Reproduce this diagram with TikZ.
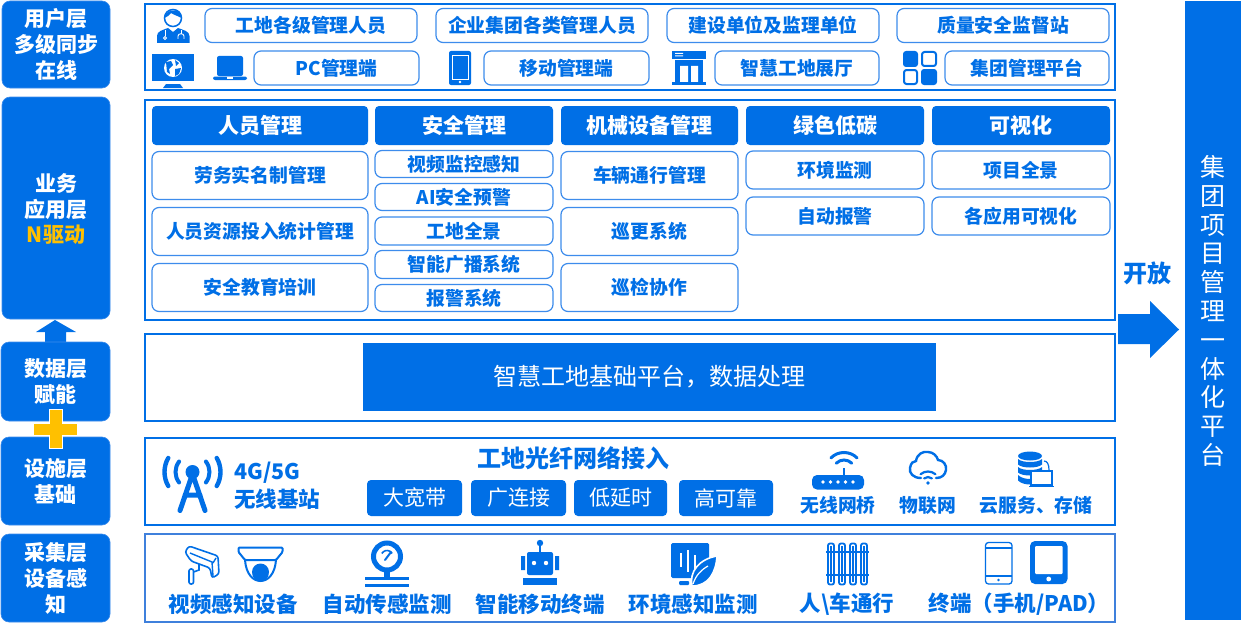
\documentclass[tikz,border=0pt]{standalone}
\usepackage{fontspec}
\setmainfont{Noto Sans CJK SC}
\definecolor{mb}{HTML}{006FE6}
\definecolor{pb}{HTML}{3D8CEC}
\definecolor{low}{HTML}{3F80DC}
\definecolor{ye}{HTML}{FFC000}
\newcommand{\fsz}[2]{\fontsize{#1pt}{#2pt}\selectfont}
% box: style, name, x1,y1,x2,y2, text
\newcommand{\bx}[7]{\node[#1,minimum width={(#5-#3)*1pt},minimum height={(#6-#4)*1pt}] (#2) at ({(#3+#5)/2},{(#4+#6)/2}) {#7};}
\tikzset{x=1pt,y=-1pt,
 layerbox/.style={fill=mb,draw=pb,line width=.6pt,rounded corners=8pt,inner sep=0pt,text=white,font=\bfseries\fsz{21}{26},align=center},
 panelbox/.style={draw=mb,line width=2pt,fill=white,inner sep=0pt},
 lowpanel/.style={draw=low,line width=2pt,fill=white,inner sep=0pt},
 pillbox/.style={draw=pb,line width=1.2pt,fill=white,rounded corners=7pt,inner sep=0pt,text=mb,font=\bfseries\fsz{18.8}{22}},
 headbox/.style={fill=mb,rounded corners=4pt,inner sep=0pt,text=white,font=\bfseries\fsz{21}{24}},
 chipbox/.style={fill=mb,rounded corners=4pt,inner sep=0pt,text=white,font=\fsz{21}{24}},
 bluelabel/.style={inner sep=0pt,text=mb,font=\bfseries\fsz{21.5}{26}},
 iconfill/.style={fill=mb,draw=none},
 iconline/.style={draw=mb,line width=1.4pt},
}
\begin{document}
\begin{tikzpicture}
\useasboundingbox (0,0) rectangle (1244,634);
% ---- layer boxes
\bx{layerbox}{userlayer}{2}{1}{110}{88}{用户层\\多级同步\\在线}
\node[layerbox,minimum width=108pt,minimum height=222pt] (applayer) at (56,208) {};
\node[inner sep=0pt,text=white,align=center,font=\bfseries\fsz{21}{25.5}] (applabel) at (56,209) {业务\\应用层\\\textcolor{ye}{N驱动}};
\fill[mb] (55,320)--(76,332)--(66,332)--(66,344)--(45,344)--(45,332)--(36,332)--cycle;
\bx{layerbox}{datalayer}{1}{342}{110}{421}{数据层\\赋能}
\bx{layerbox}{facilitylayer}{1}{437}{110}{525}{设施层\\基础}
\bx{layerbox}{collectlayer}{1}{534}{110}{622}{采集层\\设备感\\知}
\fill[white] (48.5,408.5) rectangle (62.5,448.5);
\fill[ye] (49.5,409.5) rectangle (61.5,447.5);
\fill[ye] (34,424) rectangle (77,435);
% ---- panels
\bx{panelbox}{panelA}{145}{4}{1115}{90}{}
\bx{panelbox}{panelB}{145}{100}{1115}{320}{}
\bx{panelbox}{panelC}{145}{334}{1115}{421}{}
\bx{panelbox}{panelD}{145}{438}{1115}{525}{}
\bx{lowpanel}{panelE}{145}{534}{1115}{622}{}
% ---- user row
\bx{pillbox}{ua}{205}{8.5}{417}{42.5}{工地各级管理人员}
\bx{pillbox}{ub}{436}{8.5}{648}{42.5}{企业集团各类管理人员}
\bx{pillbox}{uc}{667}{8.5}{879}{42.5}{建设单位及监理单位}
\bx{pillbox}{ud}{897}{8.5}{1109}{42.5}{质量安全监督站}
\bx{pillbox}{ue}{254}{51}{419}{85}{PC管理端}
\bx{pillbox}{uf}{484}{51}{649}{85}{移动管理端}
\bx{pillbox}{ug}{715}{51}{879}{85}{智慧工地展厅}
\bx{pillbox}{uh}{945}{51}{1109}{85}{集团管理平台}
% ---- application headers
\bx{headbox}{ha}{152}{106}{368}{145}{人员管理}
\bx{headbox}{hb}{375}{106}{553}{145}{安全管理}
\bx{headbox}{hc}{561}{106}{738}{145}{机械设备管理}
\bx{headbox}{hd}{746}{106}{924}{145}{绿色低碳}
\bx{headbox}{he}{932}{106}{1110}{145}{可视化}
\bx{pillbox}{a1}{152}{151.5}{368}{199.5}{劳务实名制管理}
\bx{pillbox}{a2}{152}{207.5}{368}{255.5}{人员资源投入统计管理}
\bx{pillbox}{a3}{152}{263.5}{368}{311.5}{安全教育培训}
\bx{pillbox}{b1}{375}{150.5}{553}{177.5}{视频监控感知}
\bx{pillbox}{b2}{375}{183.5}{553}{210.5}{AI安全预警}
\bx{pillbox}{b3}{375}{217}{553}{245}{工地全景}
\bx{pillbox}{b4}{375}{250.5}{553}{278.5}{智能广播系统}
\bx{pillbox}{b5}{375}{284.5}{553}{311.5}{报警系统}
\bx{pillbox}{c1}{561}{151.5}{738}{199.5}{车辆通行管理}
\bx{pillbox}{c2}{561}{207.5}{738}{255.5}{巡更系统}
\bx{pillbox}{c3}{561}{263.5}{738}{311.5}{巡检协作}
\bx{pillbox}{d1}{746}{151}{924}{189}{环境监测}
\bx{pillbox}{d2}{746}{197}{924}{235}{自动报警}
\bx{pillbox}{e1}{932}{151}{1110}{189}{项目全景}
\bx{pillbox}{e2}{932}{197}{1110}{235}{各应用可视化}
% ---- data platform
\node[fill=mb,inner sep=0pt,text=white,font=\fsz{24}{28},minimum width=573pt,minimum height=68pt] (platform) at (649.5,377) {智慧工地基础平台，数据处理};
% ---- network
\node[bluelabel,font=\bfseries\fsz{24}{28}] (nettitle) at (573,458) {工地光纤网络接入};
\bx{chipbox}{n1}{367}{480}{462}{516}{大宽带}
\bx{chipbox}{n2}{471}{480}{566}{516}{广连接}
\bx{chipbox}{n3}{574}{480}{667}{516}{低延时}
\bx{chipbox}{n4}{679}{480}{773}{516}{高可靠}
\node[bluelabel,anchor=west] (g4) at (234,473) {4G/5G};
\node[bluelabel,anchor=west] (wl) at (234,499) {无线基站};
\node[bluelabel,font=\bfseries\fsz{18.8}{22}] (lb1) at (838,505) {无线网桥};
\node[bluelabel,font=\bfseries\fsz{18.8}{22}] (lb2) at (928,505) {物联网};
\node[bluelabel,font=\bfseries\fsz{18.8}{22}] (lb3) at (1036,505) {云服务、存储};
% ---- collection labels
\node[bluelabel] (c01) at (233,604) {视频感知设备};
\node[bluelabel] (c02) at (387,604) {自动传感监测};
\node[bluelabel] (c03) at (540,604) {智能移动终端};
\node[bluelabel] (c04) at (693,604) {环境感知监测};
\node[bluelabel] (c05) at (847,604) {人\textbackslash 车通行};
\node[bluelabel] (c06) at (1019,604) {终端（手机/PAD）};
% ---- right bar
\node[fill=mb,inner sep=0pt,minimum width=56pt,minimum height=619pt] (rightbar) at (1213,310.5) {};
\node[inner sep=0pt,text=white,align=center,font=\fsz{25}{28.8}] (righttext) at (1213,311) {集\\团\\项\\目\\管\\理\\一\\体\\化\\平\\台};
\node[bluelabel,font=\bfseries\fsz{24}{28}] (open) at (1147,273) {开放};
\fill[mb] (1118,314)--(1150,314)--(1150,301)--(1179,329.5)--(1150,358)--(1150,344)--(1118,344)--cycle;
% ---- ICONS
% person
\draw[mb,line width=1.5pt,fill=white] (173,18) circle (8.5pt);
\fill[mb] (164.5,18) .. controls (164,9) and (182,7) .. (181.5,18) .. controls (178,16) and (174,15) .. (171,13) .. controls (170,15) and (167,17) .. (164.5,18) -- cycle;
\fill[mb] (157,43)--(157,36) .. controls (157,31) and (163,30) .. (168,28)--(173,32)--(178,28) .. controls (183,30) and (189.5,31) .. (189.5,36)--(189.5,43)--cycle;
\draw[white,line width=.9pt] (165,30)--(165,36) (181,30)--(181,34);
\draw[white,line width=.9pt] (165,38) circle (1.6pt) (178,39)--(178,36) .. controls (178,33) and (184,33) .. (184,36)--(184,39);
% monitor
\fill[mb] (152,54) rectangle (194,81);
\fill[mb] (163,88)--(166,84)--(180,84)--(183,88)--cycle;
\fill[white] (173,68) circle (9pt);
\fill[mb] (166,62)--(171,61)--(173,65)--(169,69)--(170,74)--(167,72)--cycle (175,60)--(179,63)--(176,66)--cycle (175,69)--(181,68)--(179,74)--(175,76)--cycle;
% laptop
\fill[mb,rounded corners=2pt] (217,56) rectangle (243,76);
\fill[mb,rounded corners=2pt] (213,76.5) rectangle (247,80);
\fill[white] (227,77) rectangle (233,78.5);
% phone
\fill[mb,rounded corners=2pt] (449,51) rectangle (471,85);
\draw[white,line width=.7pt] (452,55.5) rectangle (468,79);
\fill[white] (460,82) circle (1.3pt);
% shop
\fill[mb] (672,51) rectangle (706,59);
\fill[white] (675,53) rectangle (683,54) (675,55.5) rectangle (683,56.5);
\fill[mb] (675,60) rectangle (703,83);
\fill[white] (680,66) rectangle (688,82) (691,66) rectangle (698,82);
\fill[mb] (672,81.5) rectangle (706,85);
% grid
\fill[mb,rounded corners=3pt] (903,51) rectangle (918,67);
\fill[mb,rounded corners=3pt] (921,69) rectangle (937,85);
\draw[mb,line width=2pt,rounded corners=2.5pt] (922,52) rectangle (936,66) (904,70) rectangle (917,84);
% tower
\fill[mb] (192.5,472) circle (7pt);
\draw[mb,line width=5pt,line cap=round] (192.5,474)--(180,510.5) (192.5,474)--(205,510.5) (185,495)--(200,495);
\draw[mb,line width=4.4pt,line cap=round] (192.5,472) ++(150:28pt) arc (150:210:28pt);
\draw[mb,line width=4.4pt,line cap=round] (192.5,472) ++(-30:28pt) arc (-30:30:28pt);
\draw[mb,line width=4pt,line cap=round] (192.5,472) ++(142:17pt) arc (142:218:17pt);
\draw[mb,line width=4pt,line cap=round] (192.5,472) ++(-38:17pt) arc (-38:38:17pt);
% wifi bridge
\fill[mb,rounded corners=5pt] (812,475) rectangle (864,489.5);
\foreach \dx in {823,830.5,838,845.5,853} {\fill[white] (\dx,482) circle (1.8pt);}
\draw[mb,line width=2.4pt] (844,468)--(844,476);
\draw[mb,line width=3pt,line cap=round] (844,471) ++(45:18.5pt) arc (45:135:18.5pt);
\draw[mb,line width=3pt,line cap=round] (844,471) ++(45:11pt) arc (45:135:11pt);
% cloud
\draw[mb,line width=2.4pt,line cap=round] (921,478) .. controls (913,478) and (909,473) .. (910,468) .. controls (911,463) and (913,461) .. (916,461) .. controls (917,454) and (923,451) .. (928,452) .. controls (933,452) and (937,456) .. (938,460) .. controls (943,460) and (947,465) .. (946,470) .. controls (945,475) and (942,478) .. (936,478);
\fill[mb] (928,483) circle (1.9pt);
\draw[mb,line width=2.2pt,line cap=round] (928,483) ++(50:6pt) arc (50:130:6pt);
\draw[mb,line width=2.2pt,line cap=round] (928,483) ++(50:11.5pt) arc (50:130:11.5pt);
% database + laptop
\fill[mb] (1030,456) ellipse (12pt and 4.5pt);
\fill[mb] (1018,459) .. controls (1022,463) and (1038,463) .. (1042,459)--(1042,464.5) .. controls (1038,468.5) and (1022,468.5) .. (1018,464.5)--cycle;
\fill[mb] (1018,467) .. controls (1022,471) and (1038,471) .. (1042,467)--(1042,472.5) .. controls (1038,476.5) and (1022,476.5) .. (1018,472.5)--cycle;
\fill[mb] (1018,475) .. controls (1021,478) and (1026,479) .. (1030,479)--(1030,484.5) .. controls (1026,484.5) and (1021,483.5) .. (1018,480.5)--cycle;
\draw[mb,line width=1.2pt] (1044,461) .. controls (1047,461) and (1049,464) .. (1049,470);
\draw[mb,line width=1.6pt,fill=white] (1031,471) rectangle (1052,485);
\draw[mb,line width=1.6pt] (1029,486.5)--(1054,486.5);
% camera
\draw[iconline,line width=1.6pt,rounded corners=2.5pt] (185,552)--(189,546)--(218,556)--(219,574)--(212,578)--(210,568)--(191,561)--cycle;
\draw[iconline,line width=1.4pt] (190,553)--(212,562)--(213,576) (216,558)--(213,563);
\draw[iconline,line width=1.6pt,rounded corners=2pt] (189,569) rectangle (193.5,584);
\draw[iconline,line width=1.6pt] (193.5,572)--(199,570)--(199,564);
% dome
\draw[iconline,line width=2pt,rounded corners=1pt] (238.5,547.5)--(282.5,547.5)--(282.5,552)--(276,560)--(245,560)--(238.5,552)--cycle;
\draw[iconline,line width=2pt] (245,560) .. controls (246,574) and (253,581) .. (260.5,581) .. controls (268,581) and (275,574) .. (276,560);
\fill[mb] (252,572) arc (180:0:8.5pt) .. controls (269,578) and (265,581) .. (260.5,581) .. controls (256,581) and (252,578) .. (252,572) -- cycle;
% gauge
\draw[mb,line width=5pt,fill=white] (387,556.5) circle (13.5pt);
\draw[mb,line width=1.6pt] (387,556.5) ++(150:6pt) arc (150:30:6pt);
\draw[mb,line width=2pt,line cap=round] (385,560)--(391,552);
\draw[mb,line width=6pt] (387,570)--(387,578);
\draw[mb,line width=3pt] (365,578)--(409,578) (365,585)--(409,585);
% robot
\fill[mb] (540,543) circle (3.2pt);
\draw[mb,line width=1.6pt] (540,545)--(540,553);
\fill[mb,rounded corners=2pt] (527,552) rectangle (553,575);
\fill[mb] (521,556) rectangle (525,570) (555,556) rectangle (559,570);
\fill[white] (534,563) circle (2.2pt) (546,563) circle (2.2pt);
\fill[mb] (523,578) rectangle (557,585);
% environment
\fill[mb,rounded corners=1.5pt] (671,543) rectangle (709,578);
\draw[white,line width=1.5pt] (681,553)--(681,567) (688,550)--(688,572) (695,555)--(695,569);
\fill[mb,rounded corners=1pt] (679,581) rectangle (689,585);
\draw[white,line width=1.6pt,fill=mb] (692,586) .. controls (689,572) and (699,559) .. (717,556) .. controls (716,572) and (709,586) .. (692,586) -- cycle;
\draw[white,line width=1.2pt] (693,584) .. controls (696,575) and (701,570) .. (708,566);
% fence
\foreach \px in {831,842,853,864} {\draw[mb,line width=1.8pt,rounded corners=2pt,fill=white] (\px-3,543.5) rectangle (\px+3,584.5);}
\foreach \px in {831,842,853,864} {\draw[mb,line width=1.8pt] (\px,546)--(\px,582);}
\draw[mb,line width=1.8pt] (826,552)--(869,552) (826,575)--(869,575);
% phone outline
\draw[mb,line width=1.3pt,rounded corners=3pt] (985.5,542.5) rectangle (1012,584);
\draw[mb,line width=1.2pt] (985.5,548)--(1012,548) (985.5,576)--(1012,576);
\fill[mb] (998.5,580) circle (1.3pt);
% tablet
\fill[mb,rounded corners=5pt] (1030,541) rectangle (1067.5,584);
\fill[white,rounded corners=1pt] (1035,546) rectangle (1062.5,574);
\fill[white] (1048.7,579) circle (2.4pt);
\end{tikzpicture}
\end{document}
